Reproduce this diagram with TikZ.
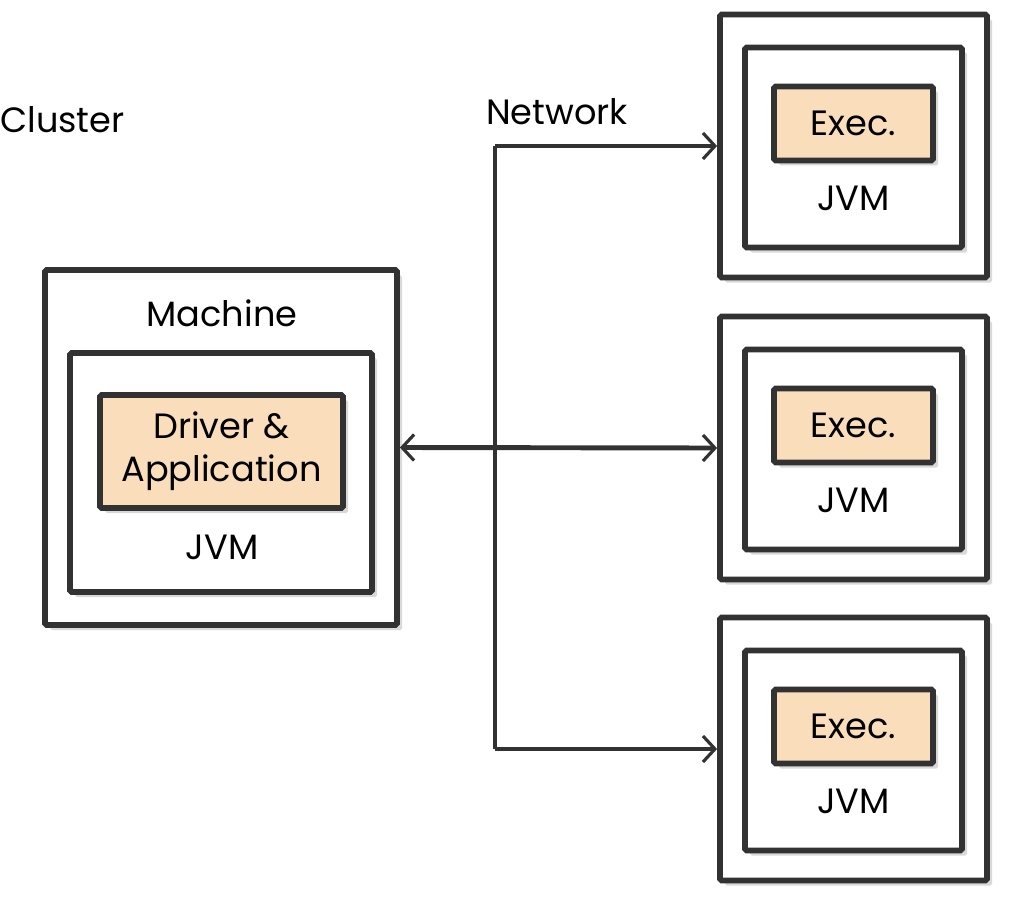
\documentclass[tikz,border=0pt]{standalone}
\usepackage{fontspec}
\setmainfont{Poppins}
\usetikzlibrary{arrows.meta,shadows}
\definecolor{myline}{RGB}{50,50,50}
\definecolor{mypeach}{RGB}{250,222,188}

\tikzset{
    box/.style={draw=myline, line width=3.3pt, rounded corners=1pt, fill=white,
        drop shadow={opacity=0.3, shadow xshift=0.1cm, shadow yshift=-0.1cm}},
    task/.style={box, fill=mypeach, align=center},
    label/.style={font=\fontsize{20}{24}\selectfont, text=black},
    link/.style={draw=myline, line width=2.8pt,
        >={Straight Barb[length=0.24cm, width=0.52cm, line width=1.8pt]}},
}

\begin{document}
\begin{tikzpicture}
    \useasboundingbox (0,0) rectangle (20.3,-18.16);
    % Title
    \node[label, anchor=west, inner sep=0pt] (cluster) at (0, -2.4) {Cluster};
    \node[label] (network) at (11.14, -2.24) {Network};

    % driver machine
    \node[box, minimum width=7.04cm, minimum height=7.1cm] (machine) at (4.42, -8.95) {};
    \node[box, minimum width=6.04cm, minimum height=4.78cm] (djvm) at (4.42, -9.45) {};
    \node[task, label, minimum width=4.86cm, minimum height=2.26cm] (driver) at (4.43, -9.03)
        {Driver \&\\[0.02cm]Application};
    \node[label] at (4.44, -6.26) {Machine};
    \node[label] at (4.44, -10.94) {JVM};

    % executor machines
    \foreach \i/\y in {1/-2.92, 2/-8.96, 3/-14.98} {
        \node[box, minimum width=5.34cm, minimum height=5.26cm] (host\i) at (17.07, \y) {};
        \node[box, minimum width=4.34cm, minimum height=4.0cm] (jvm\i) at (17.07, \y-0.03) {};
        \node[task, label, minimum width=3.18cm, minimum height=1.48cm] (exec\i) at (17.07, \y+0.45) {Exec.};
        \node[label] at (17.07, \y-1.05) {JVM};
    }

    % network
    \coordinate (hub) at (9.9, 0);
    \draw[link] (host1.west -| hub) -- (host3.west -| hub);
    \draw[link, ->] (host1.west -| hub) -- (host1.west);
    \draw[link, ->] (host3.west -| hub) -- (host3.west);
    \draw[link, <->] (machine.east) -- (host2.west);
\end{tikzpicture}
\end{document}
